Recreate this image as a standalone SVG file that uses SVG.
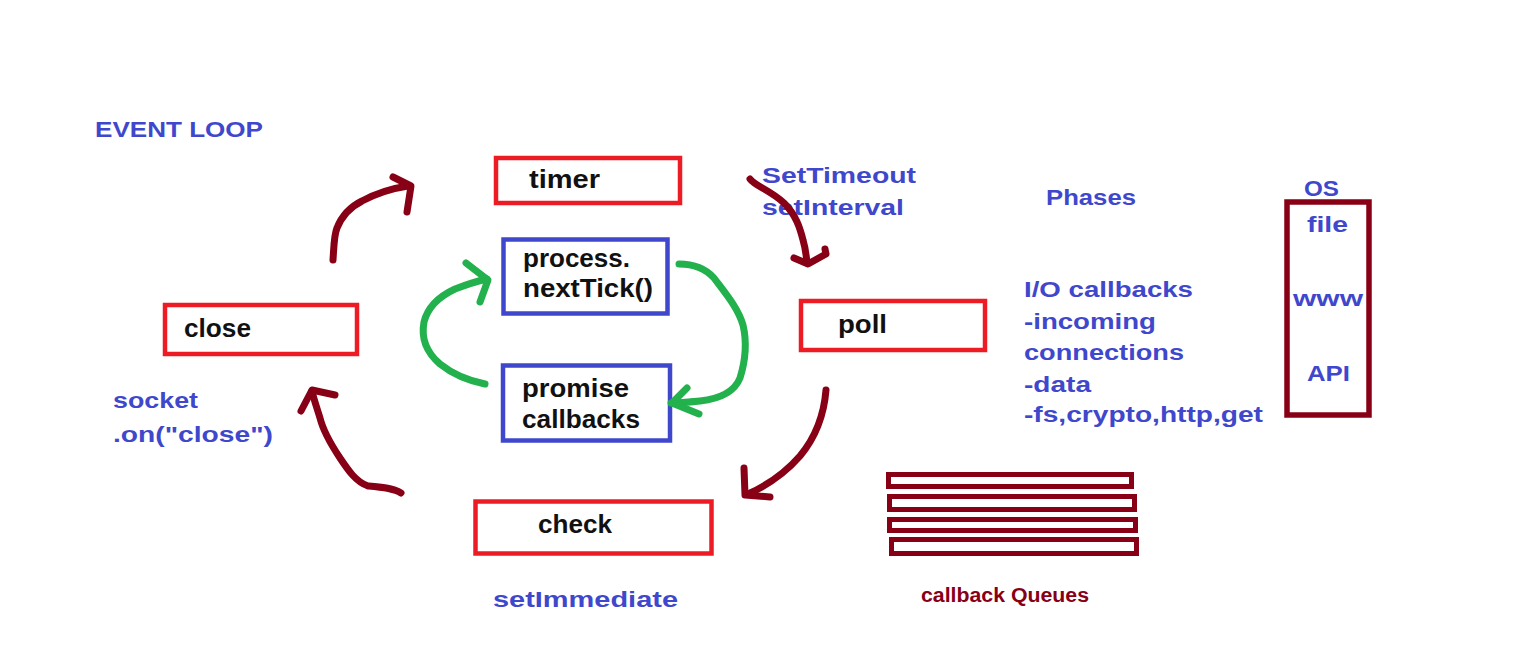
<svg xmlns="http://www.w3.org/2000/svg" width="1540" height="660" viewBox="0 0 1540 660">
<style>
.bg{fill:#ffffff}
.rbox{fill:none;stroke:#ED1C24;stroke-width:4.5}
.bbox{fill:none;stroke:#3F48CC;stroke-width:4.5}
.dbox{fill:none;stroke:#880015;stroke-width:5.5}
.qbox{fill:none;stroke:#880015;stroke-width:5}
.lbl{font-family:"Liberation Sans",Arial,sans-serif;font-weight:bold;font-size:26px;fill:#111111}
.note{font-family:"Liberation Sans",Arial,sans-serif;font-weight:bold;font-size:22px;fill:#3F48CC}
.dnote{font-family:"Liberation Sans",Arial,sans-serif;font-weight:bold;font-size:20px;fill:#880015}
.red{fill:none;stroke:#880015;stroke-width:7;stroke-linecap:round;stroke-linejoin:round}
.grn{fill:none;stroke:#22B14C;stroke-width:7;stroke-linecap:round;stroke-linejoin:round}
</style>
<rect class="bg" x="0" y="0" width="1540" height="660"/>
<text class="note" x="95" y="137" font-size="23" textLength="168" lengthAdjust="spacingAndGlyphs">EVENT LOOP</text>

<g id="timer">
<rect class="rbox" x="496" y="158" width="184" height="45"/>
<text class="lbl" x="529" y="188" textLength="71" lengthAdjust="spacingAndGlyphs">timer</text>
</g>
<g id="nextTick">
<rect class="bbox" x="503.5" y="239.5" width="164" height="74"/>
<text class="lbl" x="523" y="267" textLength="107" lengthAdjust="spacingAndGlyphs">process.</text>
<text class="lbl" x="523" y="297" textLength="130" lengthAdjust="spacingAndGlyphs">nextTick()</text>
</g>
<g id="promise">
<rect class="bbox" x="503" y="365.5" width="167" height="75"/>
<text class="lbl" x="522" y="397" textLength="107" lengthAdjust="spacingAndGlyphs">promise</text>
<text class="lbl" x="522" y="428" textLength="118" lengthAdjust="spacingAndGlyphs">callbacks</text>
</g>
<g id="close">
<rect class="rbox" x="165" y="305" width="192" height="49"/>
<text class="lbl" x="184" y="337" textLength="67" lengthAdjust="spacingAndGlyphs">close</text>
</g>
<g id="poll">
<rect class="rbox" x="801" y="301" width="184" height="49"/>
<text class="lbl" x="838" y="333" textLength="49" lengthAdjust="spacingAndGlyphs">poll</text>
</g>
<g id="check">
<rect class="rbox" x="475.5" y="501.5" width="236" height="52"/>
<text class="lbl" x="538" y="533" textLength="74" lengthAdjust="spacingAndGlyphs">check</text>
</g>

<g id="timer-notes">
<text class="note" x="762" y="183" textLength="154" lengthAdjust="spacingAndGlyphs">SetTimeout</text>
<text class="note" x="762" y="215" textLength="142" lengthAdjust="spacingAndGlyphs">setInterval</text>
</g>
<g id="phases">
<text class="note" x="1046" y="205" textLength="90" lengthAdjust="spacingAndGlyphs">Phases</text>
</g>
<g id="io-notes">
<text class="note" x="1024" y="297" textLength="169" lengthAdjust="spacingAndGlyphs">I/O callbacks</text>
<text class="note" x="1024" y="329" textLength="132" lengthAdjust="spacingAndGlyphs">-incoming</text>
<text class="note" x="1024" y="360" textLength="160" lengthAdjust="spacingAndGlyphs">connections</text>
<text class="note" x="1024" y="392" textLength="67" lengthAdjust="spacingAndGlyphs">-data</text>
<text class="note" x="1024" y="422" textLength="239" lengthAdjust="spacingAndGlyphs">-fs,crypto,http,get</text>
</g>
<g id="os">
<text class="note" x="1304" y="196" textLength="35" lengthAdjust="spacingAndGlyphs">OS</text>
<rect class="dbox" x="1287" y="202" width="82" height="213"/>
<text class="note" x="1307" y="232" textLength="41" lengthAdjust="spacingAndGlyphs">file</text>
<text class="note" x="1293" y="306" textLength="70" lengthAdjust="spacingAndGlyphs">www</text>
<text class="note" x="1307" y="381" textLength="43" lengthAdjust="spacingAndGlyphs">API</text>
</g>
<g id="close-notes">
<text class="note" x="113" y="408" textLength="85" lengthAdjust="spacingAndGlyphs">socket</text>
<text class="note" x="113" y="442" textLength="160" lengthAdjust="spacingAndGlyphs">.on("close")</text>
</g>
<g id="check-notes">
<text class="note" x="493" y="607" textLength="185" lengthAdjust="spacingAndGlyphs">setImmediate</text>
</g>
<g id="queues">
<rect class="qbox" x="888.5" y="474.5" width="243" height="12"/>
<rect class="qbox" x="889.5" y="496.5" width="245" height="13"/>
<rect class="qbox" x="889.5" y="519.5" width="246" height="11"/>
<rect class="qbox" x="891.5" y="539.5" width="245" height="14"/>
<text class="dnote" x="921" y="602" textLength="168" lengthAdjust="spacingAndGlyphs">callback Queues</text>
</g>

<g id="connectors">
<path class="red" d="M333,260 C334,245 334,235 337,228 C343,213 352,206 362,201 C375,194 388,189 408,186"/>
<path class="red" d="M393,177 L411,186 L407,212"/>
<path class="red" d="M750,179 C755,186 770,190 784,203 C796,215 800,228 803,240 C806,250 806,256 807,262"/>
<path class="red" d="M794,258 L808,264 L826,254 L825,249"/>
<path class="red" d="M826,390 C824,415 815,438 800,456 C786,472 768,485 748,494"/>
<path class="red" d="M744,468 L745,495 L770,497"/>
<path class="red" d="M401,493 C393,488 380,487 368,486 C356,482 348,470 340,458 C330,443 323,430 320,418 C317,408 314,400 312,391"/>
<path class="red" d="M301,411 L312,390 L335,395"/>
<path class="grn" d="M485,384 C470,381 455,376 440,364 C426,352 421,338 424,322 C428,306 440,296 455,289 C468,284 478,281 487,279"/>
<path class="grn" d="M466,263 L488,280 L480,302"/>
<path class="grn" d="M679,264 C694,264 705,268 714,278 C726,294 738,308 743,325 C747,342 745,362 740,378 C734,393 718,399 700,401 C690,402 680,403 671,403"/>
<path class="grn" d="M687,388 L672,403 L699,414"/>
</g>
</svg>
